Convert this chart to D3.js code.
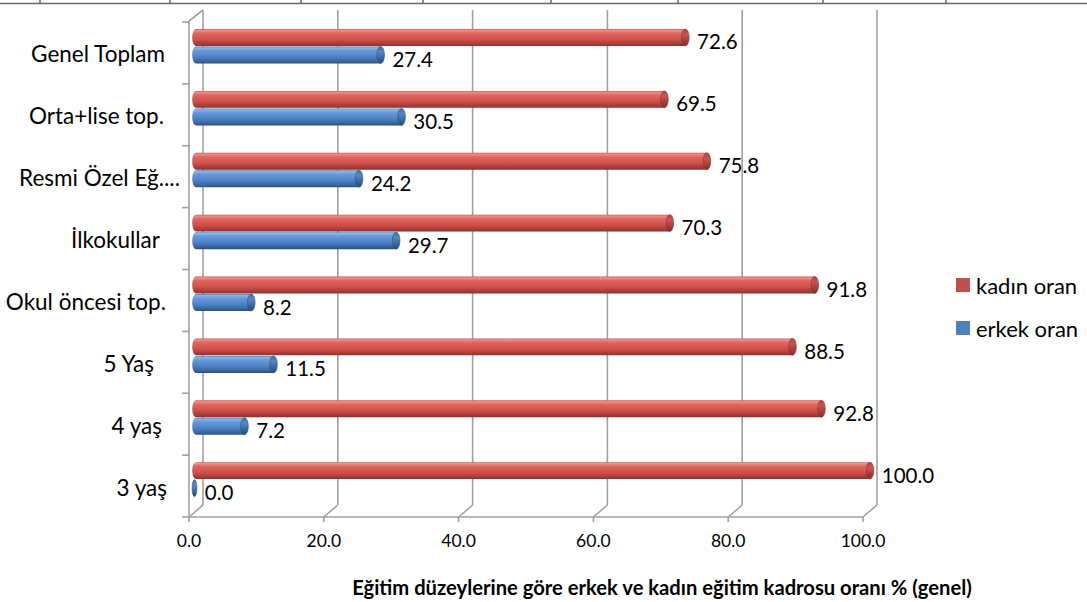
<!DOCTYPE html>
<html><head><meta charset="utf-8">
<script src="https://cdn.jsdelivr.net/npm/d3@7"></script>
<style>body{margin:0;background:#fff} svg{display:block}</style>
</head><body><svg id="c" width="1087" height="602"></svg>
<script>
const categories = ["Genel Toplam","Orta+lise top.","Resmi Özel Eğ....","İlkokullar","Okul öncesi top.","5 Yaş","4 yaş","3 yaş"];
const kadinOran = [72.6,69.5,75.8,70.3,91.8,88.5,92.8,100.0];
const erkekOran = [27.4,30.5,24.2,29.7,8.2,11.5,7.2,0.0];
const seriesNames = ["kadın oran","erkek oran"];
const xTicks = [0,20,40,60,80,100];
const title = "Eğitim düzeylerine göre erkek ve kadın eğitim kadrosu oranı % (genel)";

// layout only: horizontal nudge of each category label's right edge
const labelNudge = [0,-1,15,-5,1,-11,-3,2];

const svg = d3.select("#c");
const W = 1087, H = 602;
const FONT = "Lato, 'Liberation Sans', sans-serif";
const depthX = 14, depthY = -12;
const floorY = 517, topY = 21;
const x = d3.scaleLinear().domain([0,100]).range([189,863]);
const y = d3.scaleBand().domain(categories).range([22,517]);
const inner = d3.scaleBand().domain(seriesNames).range([7,41.5]).paddingInner(0.03);
const color = d3.scaleOrdinal().domain(seriesNames).range(["#c0504d","#4f81bd"]);

// gradients
const defs = svg.append("defs");
const grads = {
  "kadın oran": {body:[[0,"#c4504c"],[0.08,"#ec918d"],[0.25,"#e0665f"],[0.6,"#d0514c"],[0.88,"#a63b38"],[1,"#86302d"]],
                 cap:[[0,"#b0423f"],[0.3,"#c85753"],[0.7,"#a53c39"],[1,"#7e2b29"]], stroke:"#8a3431"},
  "erkek oran": {body:[[0,"#4677b8"],[0.08,"#8db5e6"],[0.25,"#6599db"],[0.6,"#4e83c6"],[0.88,"#38659b"],[1,"#2b4e7b"]],
                 cap:[[0,"#3f6ca6"],[0.3,"#5787c4"],[0.7,"#3a659c"],[1,"#284b77"]], stroke:"#2d5282"}
};
seriesNames.forEach((s,i)=>{
  ["body","cap"].forEach(k=>{
    const g = defs.append("linearGradient").attr("id",`g${i}${k}`).attr("x1",0).attr("y1",0).attr("x2",0).attr("y2",1);
    grads[s][k].forEach(([o,c])=>g.append("stop").attr("offset",o).attr("stop-color",c));
  });
});

// top table border
const topTicks = [40,170,301,423,551,678,823,946];
svg.append("line").attr("x1",0).attr("x2",W).attr("y1",3.5).attr("y2",3.5).attr("stroke","#6a6a6a").attr("stroke-width",1.5);
svg.selectAll(".tt").data(topTicks).enter().append("line").attr("x1",d=>d).attr("x2",d=>d).attr("y1",0).attr("y2",3).attr("stroke","#444").attr("stroke-width",1.2);

const gridCol = "#a0a0a0";
// back wall gridlines
svg.selectAll(".grid").data(xTicks).enter().append("line")
  .attr("x1",d=>x(d)+depthX).attr("x2",d=>x(d)+depthX)
  .attr("y1",topY+depthY+1).attr("y2",floorY+depthY)
  .attr("stroke",gridCol).attr("stroke-width",1.6);
// floor diagonals
svg.selectAll(".diag").data(xTicks).enter().append("line")
  .attr("x1",d=>x(d)).attr("x2",d=>x(d)+depthX)
  .attr("y1",floorY).attr("y2",floorY+depthY)
  .attr("stroke",gridCol).attr("stroke-width",1.6);
// front floor axis
svg.append("line").attr("x1",x(0)).attr("x2",x(100)).attr("y1",floorY).attr("y2",floorY).attr("stroke",gridCol).attr("stroke-width",1.6);
svg.selectAll(".xt").data(xTicks).enter().append("line")
  .attr("x1",d=>x(d)).attr("x2",d=>x(d)).attr("y1",floorY).attr("y2",floorY+5)
  .attr("stroke",gridCol).attr("stroke-width",1.6);
// left wall
svg.append("line").attr("x1",x(0)).attr("x2",x(0)).attr("y1",topY).attr("y2",floorY).attr("stroke",gridCol).attr("stroke-width",1.6);
svg.append("line").attr("x1",x(0)).attr("x2",x(0)+depthX).attr("y1",topY).attr("y2",topY+depthY+1).attr("stroke",gridCol).attr("stroke-width",1.6);
const bounds = categories.map(c=>y(c)).concat([y.range()[1]]);
svg.selectAll(".yt").data(bounds).enter().append("line")
  .attr("x1",x(0)-7).attr("x2",x(0)).attr("y1",d=>d).attr("y2",d=>d)
  .attr("stroke",gridCol).attr("stroke-width",1.6);

// x axis labels
svg.selectAll(".xl").data(xTicks).enter().append("text")
  .attr("x",d=>x(d)).attr("y",547).attr("text-anchor","middle")
  .attr("font-family",FONT).attr("font-size",17.5).attr("fill","#000")
  .text(d=>d.toFixed(1));

// category labels
svg.selectAll(".cl").data(categories).enter().append("text")
  .attr("x",(d,i)=>165+labelNudge[i]).attr("y",d=>y(d)+y.bandwidth()/2+1).attr("dominant-baseline","central")
  .attr("text-anchor","end").attr("font-family",FONT).attr("font-size",22.5).attr("fill","#000")
  .text(d=>d);

// bars
const data = [];
categories.forEach((c,i)=>{
  data.push({cat:c, s:seriesNames[0], si:0, v:kadinOran[i]});
  data.push({cat:c, s:seriesNames[1], si:1, v:erkekOran[i]});
});
const mid = 7; // half depth offset in x
const rx = 3.8;
const bg = svg.append("g");
data.forEach(d=>{
  const y0 = y(d.cat)+inner(d.s), h = inner.bandwidth(), cy = y0+h/2;
  const xs = x(0)+mid, xe = x(d.v)+mid;
  const g = bg.append("g");
  if (d.v > 0) {
    g.append("path")
      .attr("d",`M${xs},${y0} L${xe},${y0} L${xe},${y0+h} L${xs},${y0+h} A${rx},${h/2} 0 0 1 ${xs},${y0} Z`)
      .attr("fill",`url(#g${d.si}body)`);
    g.append("ellipse").attr("cx",xe).attr("cy",cy).attr("rx",rx).attr("ry",h/2)
      .attr("fill",`url(#g${d.si}cap)`).attr("stroke",grads[d.s].stroke).attr("stroke-width",0.6);
  } else {
    g.append("ellipse").attr("cx",xs-1.5).attr("cy",cy).attr("rx",2.4).attr("ry",h/2)
      .attr("fill",`url(#g${d.si}cap)`).attr("stroke",grads[d.s].stroke).attr("stroke-width",0.6);
  }
  svg.append("text").attr("x",xe+rx+(d.v>0?8:5)).attr("y",cy+4).attr("dominant-baseline","central")
    .attr("font-family",FONT).attr("font-size",20.5).attr("fill","#000").text(d.v.toFixed(1));
});

// legend
const lg = svg.append("g");
seriesNames.forEach((s,i)=>{
  const ly = 278 + i*43;
  lg.append("rect").attr("x",956).attr("y",ly).attr("width",14).attr("height",14).attr("fill",color(s));
  lg.append("text").attr("x",976).attr("y",ly+7).attr("dominant-baseline","central")
    .attr("font-family",FONT).attr("font-size",22).attr("fill","#000").text(s);
});

// title
svg.append("text").attr("x",662).attr("y",595).attr("text-anchor","middle")
  .attr("font-family",FONT).attr("font-weight","bold").attr("font-size",20.2).attr("fill","#000").text(title);
</script>
</body></html>
